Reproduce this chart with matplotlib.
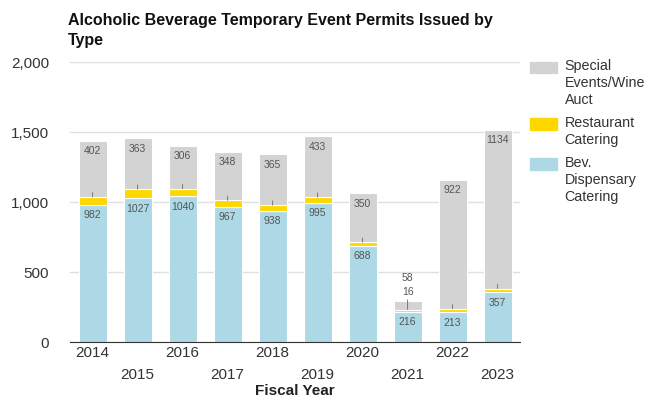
import numpy as np
import matplotlib.pyplot as plt
from matplotlib.patches import Rectangle

# data
years = ["2014", "2015", "2016", "2017", "2018", "2019", "2020", "2021", "2022", "2023"]
dispensary = [982, 1027, 1040, 967, 938, 995, 688, 216, 213, 357]
restaurant = [55, 65, 55, 45, 40, 40, 25, 16, 25, 25]
special = [402, 363, 306, 348, 365, 433, 350, 58, 922, 1134]

c_blue = "#add8e6"
c_yellow = "#ffd700"
c_gray = "#d3d3d3"
txt = "#333333"

plt.rcParams["font.family"] = ["Liberation Sans", "DejaVu Sans"]

fig = plt.figure(figsize=(6.55, 4.0), dpi=100)
ax = fig.add_axes([0.107, 0.145, 0.687, 0.70])

x = np.arange(len(years))
w = 0.62
disp = np.array(dispensary)
rest = np.array(restaurant)
spec = np.array(special)

ax.bar(x, disp, w, color=c_blue, edgecolor="white", linewidth=0.8, zorder=2)
ax.bar(x, rest, w, bottom=disp, color=c_yellow, edgecolor="white", linewidth=0.8, zorder=2)
ax.bar(x, spec, w, bottom=disp + rest, color=c_gray, edgecolor="white", linewidth=0.8, zorder=2)

# value labels
lab = dict(ha="center", fontsize=7.5, color="#555555", zorder=3, textcoords="offset points")
for i in range(len(years)):
    ax.annotate(str(disp[i]), (x[i], disp[i]), xytext=(0, -4), va="top", **lab)
    top = disp[i] + rest[i]
    if i == 7:
        ax.annotate(str(spec[i]), (x[i], top + spec[i]), xytext=(0, 13), va="bottom", **lab)
        ax.annotate(str(rest[i]), (x[i], top), xytext=(0, 9), va="bottom", **lab,
                    arrowprops=dict(arrowstyle="-", color="#777777", lw=0.7, shrinkA=0, shrinkB=0))
    else:
        ax.annotate(str(spec[i]), (x[i], top + spec[i]), xytext=(0, -4), va="top", **lab)
        ax.annotate("", (x[i], top), xytext=(0, 3), textcoords="offset points",
                    arrowprops=dict(arrowstyle="-", color="#777777", lw=0.7, shrinkA=0, shrinkB=0), zorder=3)

ax.set_xlim(-0.5, len(years) - 0.5)
ax.set_ylim(0, 2000)
ax.set_yticks([0, 500, 1000, 1500, 2000])
ax.set_yticklabels(["0", "500", "1,000", "1,500", "2,000"])
ax.grid(axis="y", color="#e0e0e0", linewidth=1, zorder=0)
ax.set_axisbelow(True)

# staggered year labels
ax.set_xticks(x[::2])
ax.set_xticklabels(years[::2])
ax.set_xticks(x[1::2], minor=True)
ax.set_xticklabels(years[1::2], minor=True)
ax.tick_params(axis="both", which="both", length=0, labelsize=11, colors=txt)
ax.tick_params(axis="x", which="major", pad=3)
ax.tick_params(axis="x", which="minor", pad=19)
ax.tick_params(axis="y", pad=15)

for s in ["top", "right", "left"]:
    ax.spines[s].set_visible(False)
ax.spines["bottom"].set_color("#333333")

fig.text(0.107 + 0.687 / 2, 0.022, "Fiscal Year", fontsize=11, fontweight="bold",
         color="#222222", ha="center", va="center")

fig.text(0.104, 0.95, "Alcoholic Beverage Temporary Event Permits Issued by",
         fontsize=11.5, fontweight="bold", color="#111111", ha="left", va="center")
fig.text(0.104, 0.90, "Type",
         fontsize=11.5, fontweight="bold", color="#111111", ha="left", va="center")

# legend
leg_items = [(c_gray, "Special\nEvents/Wine\nAuct", 0.832),
             (c_yellow, "Restaurant\nCatering", 0.69),
             (c_blue, "Bev.\nDispensary\nCatering", 0.59)]
for col, name, yt in leg_items:
    fig.patches.append(Rectangle((0.809, yt - 0.014), 0.042, 0.028, color=col,
                                 transform=fig.transFigure, figure=fig))
    fig.text(0.862, yt + 0.021, name, fontsize=10.3, color=txt, ha="left", va="top", linespacing=1.3)

fig.savefig("out.png", dpi=100)
